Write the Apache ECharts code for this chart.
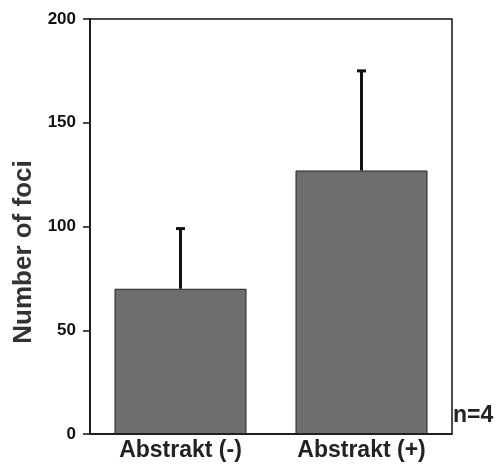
<!DOCTYPE html>
<html><head><meta charset="utf-8">
<script src="https://cdn.jsdelivr.net/npm/echarts@6/dist/echarts.min.js"></script>
<style>html,body{margin:0;padding:0;background:#fff}#c{width:502px;height:467px}</style>
</head><body><div id="c"></div>
<script>
const categories = ['Abstrakt (-)', 'Abstrakt (+)'];
const meanValues = [70, 127];
const errorTops = [99, 175];
const yTicks = [0, 50, 100, 150, 200];

const chart = echarts.init(document.getElementById('c'));
const font = 'Liberation Sans, Arial, sans-serif';
chart.setOption({
  animation: false,
  grid: { left: 90, right: 50, top: 19, bottom: 33, show: true, borderColor: '#111', borderWidth: 1.5, backgroundColor: 'transparent' },
  xAxis: {
    type: 'category', data: categories,
    axisLine: { lineStyle: { color: '#111', width: 1.5 } },
    axisTick: { show: false },
    axisLabel: { color: '#222', fontFamily: font, fontWeight: 'bold', fontSize: 23, margin: 5 }
  },
  yAxis: {
    type: 'value', min: yTicks[0], max: yTicks[yTicks.length - 1], interval: 50,
    axisLine: { show: true, lineStyle: { color: '#111', width: 1.5 } },
    axisTick: { show: true, length: 7, lineStyle: { color: '#111', width: 1.5 } },
    splitLine: { show: false },
    axisLabel: { color: '#111', fontFamily: font, fontWeight: 'bold', fontSize: 17, margin: 14 }
  },
  series: [
    {
      type: 'bar', data: meanValues, barWidth: 132,
      itemStyle: { color: '#6e6e6e', borderColor: '#222', borderWidth: 1 }
    },
    {
      type: 'custom',
      data: categories.map((c, i) => [i, meanValues[i], errorTops[i]]),
      renderItem: function (params, api) {
        const base = api.coord([api.value(0), api.value(1)]);
        const top = api.coord([api.value(0), api.value(2)]);
        return {
          type: 'group',
          children: [
            { type: 'line', shape: { x1: base[0], y1: base[1], x2: top[0], y2: top[1] }, style: { stroke: '#111', lineWidth: 3 } },
            { type: 'line', shape: { x1: top[0] - 4.5, y1: top[1], x2: top[0] + 4.5, y2: top[1] }, style: { stroke: '#111', lineWidth: 3 } }
          ]
        };
      },
      z: 3
    }
  ],
  graphic: [
    { type: 'text', x: 24, y: 252, rotation: Math.PI / 2,
      style: { text: 'Number of foci', fill: '#333', font: 'bold 26px ' + font, align: 'center', verticalAlign: 'middle' } },
    { type: 'text', x: 453, y: 427, style: { text: 'n=4', fill: '#222', font: 'bold 23px ' + font, verticalAlign: 'bottom' } }
  ]
});
</script></body></html>
